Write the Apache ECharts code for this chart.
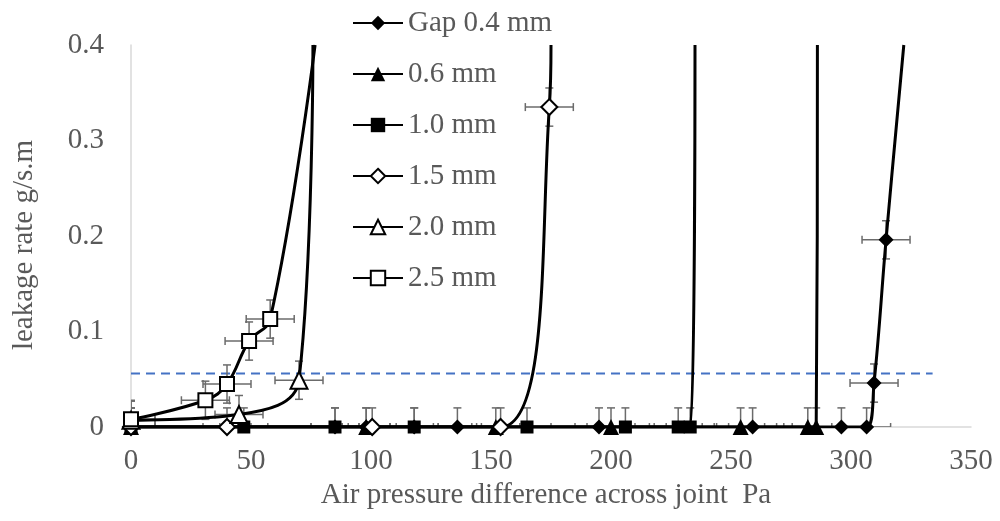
<!DOCTYPE html>
<html>
<head>
<meta charset="utf-8">
<script src="https://cdn.jsdelivr.net/npm/echarts@6/dist/echarts.min.js"></script>
<style>
    html, body { margin: 0; padding: 0; background: #fff; }
    #chart { width: 1000px; height: 521px; }
</style>
</head>
<body>
<div id="chart"></div>
<script>
    // air pressure difference (Pa) / leakage rate (g/s.m), one pair per gap width.
    // the last point of each list is where the curve leaves the top of the chart.
    var gapNames = ['Gap 0.4 mm', '0.6 mm', '1.0 mm', '1.5 mm', '2.0 mm', '2.5 mm'];

    var gap04X = [0, 85, 98, 118, 136, 195, 259, 296, 306.5, 309.6, 314.6, 322];
    var gap04Y = [0, 0, 0, 0, 0, 0, 0, 0, 0, 0.046, 0.196, 0.4];

    var gap06X = [0, 98, 152, 200, 254, 282, 285.5, 286];
    var gap06Y = [0, 0, 0, 0, 0, 0, 0, 0.4];

    var gap10X = [0, 47, 85, 118, 165, 206, 228, 233, 235];
    var gap10Y = [0, 0, 0, 0, 0, 0, 0, 0, 0.4];

    var gap15X = [0, 40, 100.5, 154, 174.3, 175];
    var gap15Y = [0, 0, 0, 0, 0.335, 0.4];

    var gap20X = [0, 45, 70, 75.8];
    var gap20Y = [0.007, 0.013, 0.049, 0.4];

    var gap25X = [0, 31, 40, 49.2, 58, 76.7];
    var gap25Y = [0.008, 0.028, 0.045, 0.09, 0.113, 0.4];

    // error bar half widths
    var errX = 10;
    var errY = 0.02;

    // dashed reference level
    var limitX = [0, 334];
    var limitY = [0.056, 0.056];

    var xTicks = [0, 350, 50];   // min, max, interval
    var yTicks = [0, 0.4, 0.1];

    var allX = [gap04X, gap06X, gap10X, gap15X, gap20X, gap25X];
    var allY = [gap04Y, gap06Y, gap10Y, gap15Y, gap20Y, gap25Y];
    var symbols = ['diamond', 'triangle', 'rect', 'diamond', 'triangle', 'rect'];
    var symSizes = [15, 16, 13, 16, 17, 14];
    var filled = [true, true, true, false, false, false];

    var font = 'Liberation Serif';
    var textColor = '#595959';

    var errData = [];
    var series = [];

    series.push({
        name: 'limit',
        type: 'line',
        data: limitX.map(function (x, i) { return [x, limitY[i]]; }),
        symbol: 'none',
        silent: true,
        z: 1,
        lineStyle: { color: '#4472C4', width: 2, type: [9, 6] }
    });

    for (var s = 0; s < gapNames.length; s++) {
        var xs = allX[s], ys = allY[s];
        var data = [];
        for (var i = 0; i < xs.length; i++) {
            if (i === xs.length - 1) {
                data.push({ value: [xs[i], ys[i]], symbol: 'none' });
            } else {
                data.push([xs[i], ys[i]]);
                errData.push([xs[i], ys[i]]);
            }
        }
        series.push({
            name: gapNames[s],
            type: 'line',
            data: data,
            smooth: 0.4,
            symbol: symbols[s],
            symbolSize: symSizes[s],
            z: 3 + s,
            color: '#000',
            lineStyle: { color: '#000', width: 3 },
            itemStyle: filled[s]
                ? { color: '#000', borderColor: '#000', borderWidth: 0 }
                : { color: '#fff', borderColor: '#000', borderWidth: 2 }
        });
    }

    function renderErrorBar(params, api) {
        var x = api.value(0), y = api.value(1);
        var c = api.coord([x, y]);
        var l = api.coord([x - errX, y])[0];
        var r = api.coord([x + errX, y])[0];
        var t = api.coord([x, y + errY])[1];
        var b = api.coord([x, y - errY])[1];
        var cap = 4;
        var st = { stroke: '#6b6b6b', lineWidth: 1.5, fill: null };
        function seg(x1, y1, x2, y2) {
            return { type: 'line', shape: { x1: x1, y1: y1, x2: x2, y2: y2 }, style: st };
        }
        return {
            type: 'group',
            children: [
                seg(l, c[1], r, c[1]),
                seg(l, c[1] - cap, l, c[1] + cap),
                seg(r, c[1] - cap, r, c[1] + cap),
                seg(c[0], t, c[0], b),
                seg(c[0] - cap, t, c[0] + cap, t),
                seg(c[0] - cap, b, c[0] + cap, b)
            ]
        };
    }

    series.push({
        name: 'error',
        type: 'custom',
        data: errData,
        encode: { x: 0, y: 1 },
        renderItem: renderErrorBar,
        clip: true,
        silent: true,
        z: 2
    });

    var myChart = echarts.init(document.getElementById('chart'));
    var option = {
        animation: false,
        backgroundColor: '#fff',
        textStyle: { fontFamily: font },
        grid: { left: 131, right: 29, top: 45, bottom: 94, outerBoundsMode: 'none' },
        legend: {
            data: gapNames,
            orient: 'vertical',
            left: 352,
            top: 8,
            padding: 0,
            itemWidth: 50,
            itemHeight: 18,
            itemGap: 21,
            textStyle: { fontSize: 29, color: textColor, fontFamily: font, lineHeight: 30 }
        },
        xAxis: {
            type: 'value',
            min: xTicks[0],
            max: xTicks[1],
            interval: xTicks[2],
            name: 'Air pressure difference across joint  Pa',
            nameLocation: 'middle',
            nameGap: 53,
            nameTextStyle: { fontSize: 29, color: textColor, fontFamily: font, padding: [0, 10, 0, 0] },
            axisLine: { show: true, lineStyle: { color: '#d9d9d9', width: 1.5 } },
            axisTick: { show: false },
            splitLine: { show: false },
            axisLabel: { fontSize: 29, color: textColor, fontFamily: font, margin: 20 }
        },
        yAxis: {
            type: 'value',
            min: yTicks[0],
            max: yTicks[1],
            interval: yTicks[2],
            name: 'leakage rate g/s.m',
            nameLocation: 'middle',
            nameGap: 92,
            nameTextStyle: { fontSize: 29, color: textColor, fontFamily: font, padding: [0, 18, 0, 0] },
            axisLine: { show: true, lineStyle: { color: '#d9d9d9', width: 1.5 } },
            axisTick: { show: false },
            splitLine: { show: false },
            axisLabel: { fontSize: 29, color: textColor, fontFamily: font, margin: 27 }
        },
        series: series
    };
    myChart.setOption(option);
</script>
</body>
</html>
